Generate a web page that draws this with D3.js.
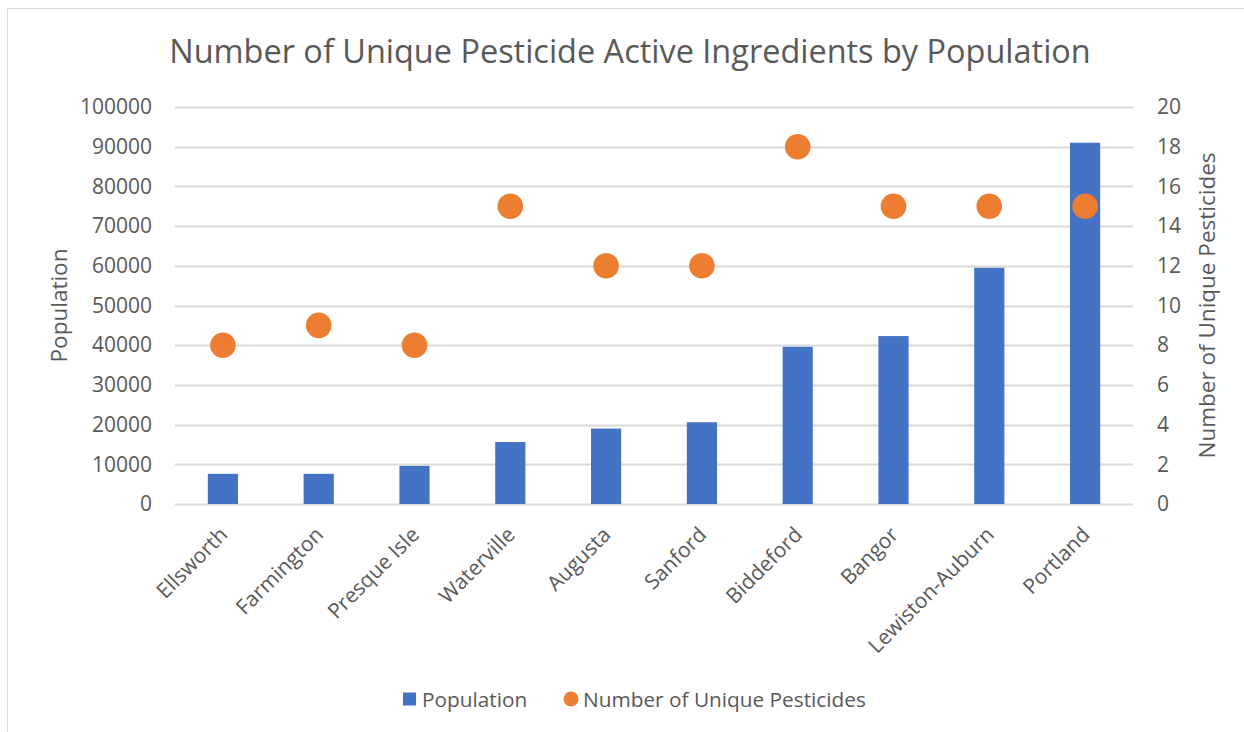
<!DOCTYPE html>
<html>
<head>
<meta charset="utf-8">
<script src="https://cdn.jsdelivr.net/npm/d3@7"></script>
<style>
  body { margin: 0; background: #fff; }
  text { font-family: "Open Sans", "Noto Sans", sans-serif; fill: #595959; }
</style>
</head>
<body>
<div id="chart"></div>
<script>
// chart data
var cities = ['Ellsworth', 'Farmington', 'Presque Isle', 'Waterville', 'Augusta', 'Sanford', 'Biddeford', 'Bangor', 'Lewiston-Auburn', 'Portland'];
var population = [7600, 7600, 9600, 15600, 19000, 20600, 39600, 42300, 59500, 91000];
var pesticides = [8, 9, 8, 15, 12, 12, 18, 15, 15, 15];
var leftTicks = [0, 10000, 20000, 30000, 40000, 50000, 60000, 70000, 80000, 90000, 100000];
var rightTicks = [0, 2, 4, 6, 8, 10, 12, 14, 16, 18, 20];

var W = 1244, H = 732;
var margin = { top: 107, right: 111, bottom: 228, left: 175 },
    width = W - margin.left - margin.right,
    height = H - margin.top - margin.bottom;

var blue = '#4472C4', orange = '#ED7D31', grid = '#D9D9D9';
var tickFont = '21px';

var svg = d3.select('#chart').append('svg')
    .attr('width', W)
    .attr('height', H);

// outer chart border
svg.append('rect')
    .attr('x', 7.5).attr('y', 8.5)
    .attr('width', W).attr('height', H)
    .attr('fill', 'none')
    .attr('stroke', grid);

var g = svg.append('g')
    .attr('transform', 'translate(' + margin.left + ',' + margin.top + ')');

var x = d3.scaleBand().domain(cities).range([0, width]).paddingInner(0).paddingOuter(0);
var yL = d3.scaleLinear().domain([0, 100000]).range([height, 0]);
var yR = d3.scaleLinear().domain([0, 20]).range([height, 0]);

// gridlines
g.append('g')
    .selectAll('line')
    .data(leftTicks)
    .join('line')
    .attr('x1', 0).attr('x2', width)
    .attr('y1', function (d) { return Math.round(yL(d)) + 0.5; })
    .attr('y2', function (d) { return Math.round(yL(d)) + 0.5; })
    .attr('stroke', grid)
    .attr('stroke-width', 2);

// left axis
var leftAxis = g.append('g')
    .call(d3.axisLeft(yL).tickValues(leftTicks).tickSize(0).tickPadding(23).tickFormat(d3.format('d')));
leftAxis.select('.domain').remove();
leftAxis.selectAll('text').style('font-size', tickFont).attr('fill', '#595959');

// right axis
var rightAxis = g.append('g')
    .attr('transform', 'translate(' + width + ',0)')
    .call(d3.axisRight(yR).tickValues(rightTicks).tickSize(0).tickPadding(24));
rightAxis.select('.domain').remove();
rightAxis.selectAll('text').style('font-size', tickFont).attr('fill', '#595959');

// bars
var barW = x.bandwidth() * 0.315;
g.append('g')
    .selectAll('rect')
    .data(population)
    .join('rect')
    .attr('x', function (d, i) { return x(cities[i]) + x.bandwidth() / 2 - barW / 2; })
    .attr('y', function (d) { return yL(d); })
    .attr('width', barW)
    .attr('height', function (d) { return height - yL(d); })
    .attr('fill', blue);

// dots
g.append('g')
    .selectAll('circle')
    .data(pesticides)
    .join('circle')
    .attr('cx', function (d, i) { return x(cities[i]) + x.bandwidth() / 2; })
    .attr('cy', function (d) { return yR(d); })
    .attr('r', 12.8)
    .attr('fill', orange);

// category labels
var xAxis = g.append('g')
    .attr('transform', 'translate(0,' + height + ')')
    .call(d3.axisBottom(x).tickSize(0).tickPadding(0));
xAxis.select('.domain').remove();
xAxis.selectAll('text')
    .style('font-size', tickFont)
    .attr('fill', '#595959')
    .attr('text-anchor', 'end')
    .attr('dy', null)
    .attr('y', 0)
    .attr('transform', 'translate(6,32) rotate(-45)');

// title
var title = svg.append('text')
    .attr('x', 630).attr('y', 63)
    .attr('text-anchor', 'middle')
    .style('font-size', '28px')
    .text('Number of Unique Pesticide Active Ingredients by Population');
var tw = title.node().getComputedTextLength();
title.style('font-size', (28 * 922 / tw) + 'px');

// axis titles
svg.append('text')
    .attr('transform', 'translate(67,' + (margin.top + height / 2) + ') rotate(-90)')
    .attr('text-anchor', 'middle')
    .style('font-size', '22.5px')
    .text('Population');

svg.append('text')
    .attr('transform', 'translate(1215,' + (margin.top + height / 2) + ') rotate(-90)')
    .attr('text-anchor', 'middle')
    .style('font-size', '22.5px')
    .text('Number of Unique Pesticides');

// legend
var legend = svg.append('g').attr('transform', 'translate(0,699)');
legend.append('rect')
    .attr('x', 403).attr('y', -6.5)
    .attr('width', 13).attr('height', 13)
    .attr('fill', blue);
legend.append('text')
    .attr('x', 422).attr('y', 7.5)
    .style('font-size', '20.8px')
    .text('Population');
legend.append('circle')
    .attr('cx', 571).attr('cy', 0)
    .attr('r', 7.5)
    .attr('fill', orange);
legend.append('text')
    .attr('x', 583).attr('y', 7.5)
    .style('font-size', '20.8px')
    .text('Number of Unique Pesticides');
</script>
</body>
</html>
